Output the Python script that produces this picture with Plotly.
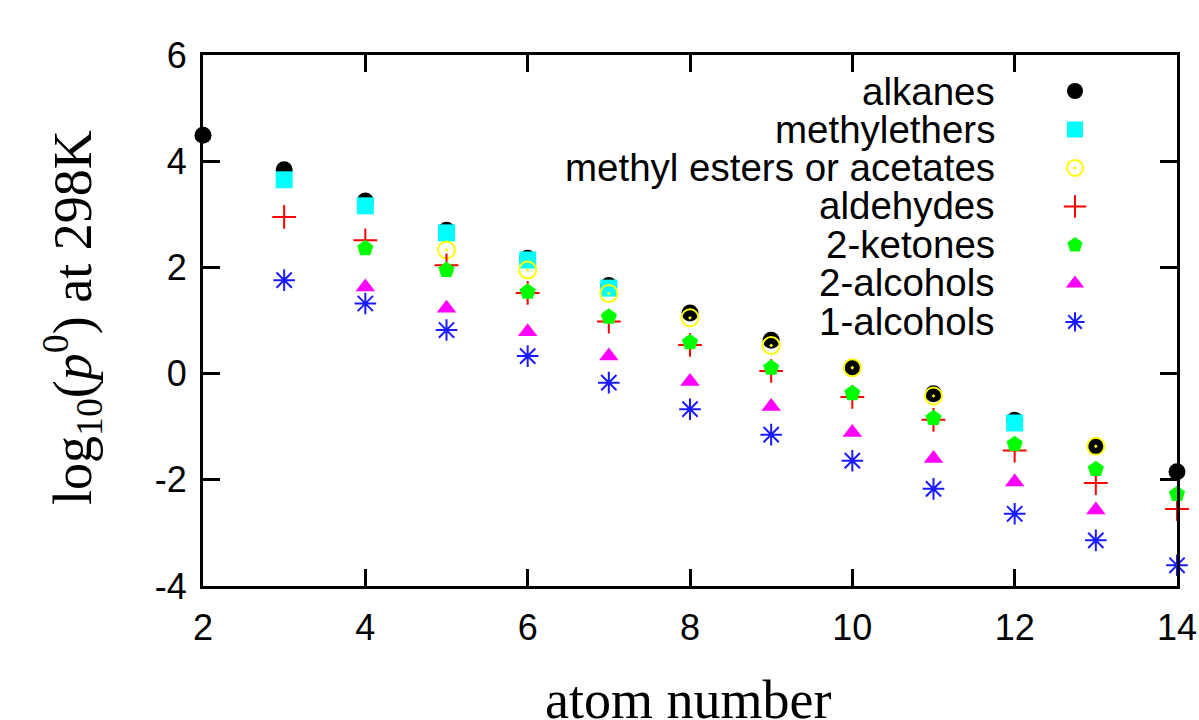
import plotly.graph_objects as go

# ---------------- data ----------------
alk_x = [2, 3, 4, 5, 6, 7, 8, 9, 10, 11, 12, 13, 14]
alk_y = [4.49, 3.84, 3.25, 2.70, 2.17, 1.66, 1.14, 0.63, 0.12, -0.38, -0.88, -1.37, -1.85]

eth_x = [3, 4, 5, 6, 7, 12]
eth_y = [3.65, 3.16, 2.65, 2.14, 1.61, -0.93]

est_x = [5, 6, 7, 8, 9, 10, 11, 13]
est_y = [2.33, 1.95, 1.51, 1.05, 0.53, 0.11, -0.42, -1.37]

ald_x = [3, 4, 5, 6, 7, 8, 9, 10, 11, 12, 13, 14]
ald_y = [2.95, 2.51, 2.04, 1.52, 0.98, 0.54, 0.05, -0.44, -0.87, -1.45, -2.06, -2.55]

ket_x = [4, 5, 6, 7, 8, 9, 10, 11, 12, 13, 14]
ket_y = [2.36, 1.95, 1.54, 1.07, 0.59, 0.11, -0.37, -0.84, -1.33, -1.80, -2.27]

al2_x = [4, 5, 6, 7, 8, 9, 10, 11, 12, 13]
al2_y = [1.63, 1.23, 0.79, 0.33, -0.15, -0.62, -1.11, -1.60, -2.04, -2.57]

al1_x = [3, 4, 5, 6, 7, 8, 9, 10, 11, 12, 13, 14]
al1_y = [1.76, 1.32, 0.82, 0.33, -0.17, -0.67, -1.15, -1.64, -2.17, -2.64, -3.14, -3.61]

series_names = ["alkanes", "methylethers", "methyl esters or acetates",
                "aldehydes", "2-ketones", "2-alcohols", "1-alcohols"]

x_tickvals = [2, 4, 6, 8, 10, 12, 14]
x_ticktext = ["2", "4", "6", "8", "10", "12", "14"]
y_tickvals = [-4, -2, 0, 2, 4, 6]
y_ticktext = ["-4", "-2", "0", "2", "4", "6"]

# ---------------- styles ----------------
styles = [
    dict(symbol="circle", color="black", size=17, line=dict(width=0)),
    dict(symbol="square", color="#00ffff", size=17, line=dict(width=0)),
    dict(symbol="circle-open-dot", color="#ffff00", size=17, line=dict(width=2, color="#ffff00")),
    dict(symbol="cross-thin-open", color="#ff0000", size=17, line=dict(width=2, color="#ff0000")),
    dict(symbol="pentagon", color="#00ff00", size=17, line=dict(width=0)),
    dict(symbol="triangle-up", color="#ff00ff", size=17, line=dict(width=0)),
    dict(symbol="asterisk-open", color="#1a1aff", size=18, line=dict(width=2, color="#1a1aff")),
]

data = [(alk_x, alk_y), (eth_x, eth_y), (est_x, est_y), (ald_x, ald_y),
        (ket_x, ket_y), (al2_x, al2_y), (al1_x, al1_y)]

fig = go.Figure()
for (xs, ys), name, st in zip(data, series_names, styles):
    fig.add_trace(go.Scatter(
        x=xs, y=ys, mode="markers", name="\u00a0",
        hovertext=name, marker=st, cliponaxis=False,
    ))

L, R, T, B = 203, 22, 55, 134
W, H = 1199, 720
pw, ph = W - L - R, H - T - B

def px_x(px):
    return (px - L) / pw

def px_y(py):
    return (H - B - py) / ph

tick_font = dict(family="Liberation Sans, Arial, sans-serif", size=36, color="black")
axis_common = dict(
    showline=True, linecolor="black", linewidth=3, mirror="ticks",
    ticks="inside", ticklen=17, tickwidth=3, tickcolor="black",
    showgrid=False, zeroline=False, tickfont=tick_font,
)

fig.update_xaxes(range=[2, 14], tickvals=x_tickvals, ticktext=x_ticktext,
                 ticklabelstandoff=8, **axis_common)
fig.update_yaxes(range=[-4, 6], tickvals=y_tickvals, ticktext=y_ticktext,
                 ticklabelstandoff=6, **axis_common)

annotations = []
row_y = [91, 129, 167.5, 206, 244, 282.5, 321.5]
for name, ry in zip(series_names, row_y):
    annotations.append(dict(
        text=name, xref="paper", yref="paper", x=px_x(997), y=px_y(ry),
        xanchor="right", yanchor="middle", showarrow=False,
        font=dict(family="Liberation Sans, Arial, sans-serif", size=38.5, color="black"),
    ))

serif = "Liberation Serif, Times New Roman, serif"
annotations.append(dict(
    text="atom number", xref="paper", yref="paper", x=px_x(688), y=px_y(668),
    xanchor="center", yanchor="top", showarrow=False,
    font=dict(family=serif, size=54, color="black"),
))
annotations.append(dict(
    text="log<sub>10</sub>(<i>p</i><sup>0</sup>) at 298K", xref="paper", yref="paper",
    x=px_x(72), y=px_y(318), xanchor="center", yanchor="middle", showarrow=False,
    textangle=-90, font=dict(family=serif, size=54, color="black"),
))

fig.update_layout(
    width=W, height=H,
    margin=dict(l=L, r=R, t=T, b=B, autoexpand=False),
    plot_bgcolor="white", paper_bgcolor="white",
    showlegend=True,
    legend=dict(
        x=px_x(1055), y=px_y(66.75), xanchor="left", yanchor="top",
        bgcolor="rgba(0,0,0,0)", borderwidth=0,
        font=dict(family="Liberation Sans, Arial, sans-serif", size=27.3, color="black"),
        tracegroupgap=0,
    ),
    annotations=annotations,
)

fig.write_html("out.html", config={"displayModeBar": False},
               post_script="document.body.style.margin='0';")
